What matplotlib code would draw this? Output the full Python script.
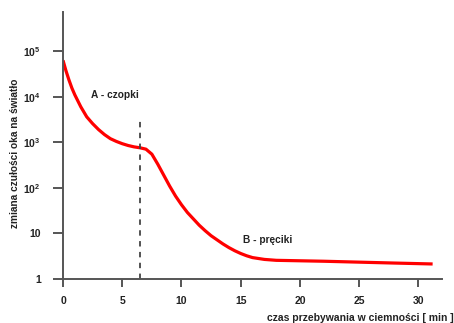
import numpy as np
import matplotlib
matplotlib.use("Agg")
import matplotlib.pyplot as plt

plt.rcParams['font.family'] = ['Liberation Sans', 'DejaVu Sans']
plt.rcParams['font.weight'] = 'bold'
plt.rcParams['mathtext.fontset'] = 'custom'
plt.rcParams['mathtext.rm'] = 'Liberation Sans:bold'
plt.rcParams['mathtext.bf'] = 'Liberation Sans:bold'

# czas w ciemnosci [min] i log10 czulosci
czas = [0, 0.25, 0.5, 0.75, 1, 1.5, 2, 2.5, 3, 3.5, 4, 4.5, 5, 5.5, 6, 6.5,
        7, 7.5, 8, 8.5, 9, 9.5, 10, 10.5, 11, 11.5, 12, 12.5, 13, 13.5, 14,
        14.5, 15, 15.5, 16, 16.5, 17, 18, 20, 22, 25, 28, 31.2]
log_czulosc = [4.80, 4.57, 4.37, 4.19, 4.04, 3.78, 3.56, 3.41, 3.28, 3.17,
               3.08, 3.02, 2.97, 2.93, 2.90, 2.88, 2.85, 2.74, 2.52, 2.28,
               2.04, 1.82, 1.63, 1.46, 1.32, 1.18, 1.06, 0.95, 0.86, 0.77,
               0.69, 0.62, 0.56, 0.51, 0.47, 0.45, 0.43, 0.41, 0.40, 0.39,
               0.37, 0.35, 0.33]
czulosc = 10.0 ** np.array(log_czulosc)

granica_x = 6.5          # przejscie czopki -> preciki
granica_top = 10 ** 3.51

x_ticks = [0, 5, 10, 15, 20, 25, 30]
y_ticks = [1, 10, 1e2, 1e3, 1e4, 1e5]
y_labels = ['1', '10', r'$10^2$', r'$10^3$', r'$10^4$', r'$10^5$']

fig = plt.figure(figsize=(4.54, 3.23), dpi=100)
ax = fig.add_axes([0.1388, 0.1362, 0.835, 0.8266])

ax.plot(czas, czulosc, color='#ff0000', lw=2.3, solid_joinstyle='round',
        solid_capstyle='butt')
ax.plot([granica_x, granica_x], [1, granica_top], color='#444444', lw=1.3,
        ls=(0, (3, 3)))

ax.set_yscale('log')
ax.set_xlim(0, 32)
ax.set_ylim(1, 10 ** 5.86)
ax.set_xticks(x_ticks)
ax.set_xticklabels([str(v) for v in x_ticks])
ax.set_yticks(y_ticks)
ax.set_yticklabels(y_labels)
ax.minorticks_off()

for s in ['top', 'right']:
    ax.spines[s].set_visible(False)
for s in ['left', 'bottom']:
    ax.spines[s].set_color('#555555')
    ax.spines[s].set_linewidth(1.4)
ax.tick_params(axis='both', colors='#555555', width=1.4, length=7,
               labelsize=7.5, labelcolor='#222222')
ax.tick_params(axis='y', pad=9)
ax.tick_params(axis='x', length=6, pad=6)

ax.text(4.39, 10 ** 4.03, 'A - czopki', fontsize=7.3, fontweight='bold',
        ha='center', va='center', color='#222222')
ax.text(17.3, 10 ** 0.86, 'B - pręciki', fontsize=7.3, fontweight='bold',
        ha='center', va='center', color='#222222')

ax.set_ylabel('zmiana czułości oka na światło', fontsize=7.3,
              fontweight='bold', color='#222222')
ax.yaxis.set_label_coords(-0.113, 0.47)
ax.set_xlabel('czas przebywania w ciemności [ min ]', fontsize=7.5,
              fontweight='bold', color='#222222')
ax.xaxis.set_label_coords(0.784, -0.128)

fig.savefig('out.png', dpi=100)
